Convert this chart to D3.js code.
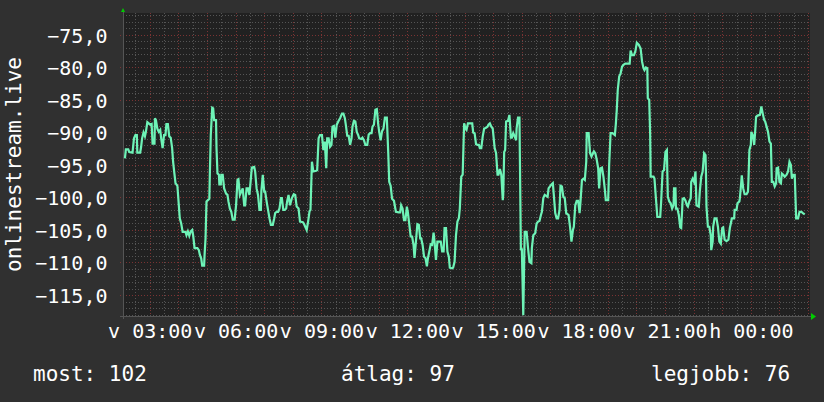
<!DOCTYPE html>
<html>
<head>
<meta charset="utf-8">
<script src="https://d3js.org/d3.v7.min.js"></script>
<style>
 body { margin: 0; background: #303030; }
 svg text { font-family: "DejaVu Sans Mono", monospace; fill: #ffffff; }
</style>
</head>
<body>
<script>
// hungarian short day names (strftime %a)
var dayNames = ["v", "h", "k", "sze", "cs", "p", "szo"];
var yTicks = [-75, -80, -85, -90, -95, -100, -105, -110, -115];
var yLabel = "onlinestream.live";
var legendLabels = ["most", "átlag", "legjobb"];
var legendValues = [102, 97, 76];

// [minutes after sunday 00:00, signal]
var signal = [
 [128,-94.0],[130,-92.6],[135,-92.6],[137,-93.0],[144,-93.1],[147,-90.9],[150,-90.4],[153,-90.4],[154,-93.1],[160,-93.1],
 [162,-92.2],[164,-90.9],[167,-90.0],[170,-90.6],[172,-89.9],[175,-88.4],[181,-88.8],[184,-88.7],[186,-91.7],[190,-91.7],
 [191,-87.8],[193,-88.1],[196,-89.4],[199,-89.9],[202,-89.6],[204,-90.9],[207,-92.4],[210,-90.4],[213,-90.4],[215,-88.7],
 [218,-88.7],[221,-90.6],[224,-90.8],[227,-92.4],[229,-94.5],[232,-96.5],[234,-97.8],[238,-98.2],[241,-101.2],[243,-103.2],
 [246,-104.0],[249,-105.3],[255,-105.3],[257,-105.8],[260,-105.2],[263,-105.9],[266,-105.2],[269,-105.0],[271,-105.8],[274,-107.8],
 [280,-107.8],[283,-108.1],[285,-108.8],[288,-109.4],[290,-110.5],[294,-110.5],[295,-108.8],[297,-106.3],[299,-100.6],[302,-100.4],
 [305,-100.2],[306,-96.5],[308,-90.4],[311,-86.2],[313,-86.3],[315,-88.1],[319,-88.1],[320,-92.4],[322,-96.3],[325,-96.5],
 [326,-98.0],[329,-98.0],[330,-96.5],[333,-96.5],[336,-98.6],[340,-99.4],[343,-99.6],[345,-100.6],[348,-101.7],[351,-102.2],
 [354,-103.4],[358,-103.4],[361,-101.2],[364,-97.3],[366,-97.2],[369,-99.6],[372,-99.1],[375,-98.6],[378,-101.2],[380,-101.2],
 [383,-98.6],[386,-98.6],[389,-99.6],[392,-97.1],[394,-95.4],[399,-95.3],[401,-96.0],[404,-98.6],[407,-99.6],[410,-101.9],
 [413,-101.9],[414,-99.1],[417,-96.5],[420,-99.1],[422,-99.1],[425,-100.6],[428,-101.9],[431,-103.2],[434,-104.2],[438,-104.2],
 [441,-103.2],[443,-102.4],[446,-102.2],[449,-102.2],[452,-101.7],[455,-100.1],[457,-100.1],[460,-101.9],[463,-101.9],[466,-101.7],
 [468,-100.6],[471,-99.6],[474,-101.2],[478,-100.1],[482,-99.5],[485,-99.6],[488,-101.4],[492,-101.7],[495,-103.7],[501,-103.8],
 [503,-104.0],[506,-104.5],[509,-105.0],[512,-103.7],[515,-102.1],[517,-101.9],[520,-94.5],[523,-96.0],[529,-95.9],[531,-95.8],
 [534,-90.9],[537,-90.4],[541,-90.4],[544,-92.7],[547,-91.4],[550,-95.5],[552,-90.9],[555,-90.9],[558,-92.2],[561,-91.9],
 [563,-89.1],[566,-89.0],[569,-90.8],[572,-88.8],[576,-88.2],[579,-87.8],[583,-87.1],[586,-87.1],[589,-87.8],[591,-88.8],
 [594,-90.5],[597,-90.5],[600,-91.9],[603,-90.9],[605,-89.1],[608,-88.2],[611,-88.3],[614,-89.9],[617,-90.4],[619,-90.9],
 [624,-91.0],[626,-90.8],[629,-91.2],[632,-91.9],[636,-91.9],[639,-90.3],[642,-90.1],[645,-90.1],[647,-89.1],[650,-88.8],
 [653,-86.5],[656,-86.4],[659,-88.8],[661,-89.9],[664,-91.2],[667,-89.8],[670,-89.4],[673,-87.7],[677,-87.7],[680,-93.2],
 [682,-97.6],[685,-98.2],[688,-100.2],[692,-100.5],[696,-102.2],[702,-102.3],[705,-102.3],[707,-101.2],[710,-101.7],[713,-103.5],
 [716,-103.5],[719,-101.4],[721,-102.2],[724,-104.1],[727,-106.0],[730,-106.0],[733,-107.3],[735,-109.3],[738,-106.8],[741,-104.1],
 [744,-104.2],[747,-106.3],[749,-106.3],[752,-107.3],[755,-109.1],[758,-109.3],[761,-110.6],[763,-109.4],[766,-108.3],[769,-107.2],
 [772,-107.3],[775,-105.4],[777,-106.8],[780,-109.6],[783,-106.8],[790,-106.8],[793,-108.3],[796,-108.3],[798,-104.7],[801,-104.7],
 [804,-108.3],[807,-109.1],[809,-110.8],[814,-110.9],[816,-110.8],[819,-109.9],[822,-105.8],[825,-103.7],[828,-103.2],[830,-101.7],
 [833,-96.8],[836,-96.5],[839,-88.6],[842,-89.4],[844,-89.6],[847,-88.6],[856,-88.6],[858,-90.0],[861,-90.1],[864,-91.8],
 [867,-91.9],[870,-91.9],[872,-92.4],[875,-92.4],[878,-90.6],[881,-89.4],[884,-89.3],[888,-89.1],[890,-88.8],[893,-88.6],
 [896,-89.1],[899,-89.4],[903,-92.4],[906,-93.2],[909,-96.5],[911,-96.5],[914,-95.6],[917,-96.5],[920,-100.4],[921,-99.6],
 [923,-93.0],[925,-92.7],[927,-88.3],[931,-88.2],[934,-87.3],[937,-90.8],[939,-90.8],[942,-90.1],[945,-90.6],[948,-91.2],
 [949,-89.4],[952,-87.7],[955,-87.7],[956,-94.5],[958,-108.1],[960,-107.8],[963,-118.1],[966,-105.3],[970,-105.3],[973,-107.8],
 [976,-109.9],[980,-110.1],[981,-107.8],[984,-105.8],[988,-105.5],[991,-104.0],[994,-103.7],[997,-103.6],[1000,-102.7],[1002,-102.2],
 [1005,-100.1],[1008,-99.6],[1014,-99.9],[1016,-98.6],[1019,-98.3],[1022,-98.0],[1025,-97.8],[1027,-99.6],[1030,-102.4],[1033,-103.2],
 [1036,-103.2],[1039,-101.9],[1041,-98.2],[1044,-98.3],[1047,-99.9],[1050,-100.1],[1053,-102.4],[1058,-102.7],[1061,-104.5],[1064,-106.8],
 [1067,-105.0],[1069,-104.5],[1072,-101.2],[1075,-100.5],[1078,-100.5],[1081,-102.4],[1083,-100.6],[1086,-97.3],[1089,-97.1],[1092,-97.3],
 [1095,-94.5],[1096,-90.1],[1100,-90.1],[1103,-93.2],[1106,-93.7],[1109,-93.2],[1111,-92.9],[1114,-93.2],[1117,-94.2],[1120,-95.5],
 [1122,-98.6],[1125,-95.5],[1128,-95.4],[1131,-96.8],[1134,-98.8],[1136,-100.4],[1141,-100.4],[1143,-95.0],[1146,-90.1],[1150,-90.1],
 [1155,-90.4],[1157,-88.7],[1159,-86.5],[1161,-83.5],[1164,-81.4],[1167,-80.9],[1170,-79.9],[1173,-79.6],[1177,-79.4],[1186,-79.4],
 [1188,-77.4],[1191,-78.1],[1195,-78.1],[1198,-77.5],[1201,-76.2],[1205,-76.5],[1209,-77.1],[1212,-79.1],[1215,-80.1],[1217,-80.4],
 [1220,-80.0],[1223,-80.1],[1224,-84.7],[1227,-85.0],[1229,-90.4],[1230,-96.8],[1236,-96.8],[1238,-97.1],[1241,-100.1],[1244,-103.0],
 [1250,-103.0],[1252,-100.6],[1255,-96.0],[1258,-95.8],[1261,-93.0],[1264,-92.7],[1265,-96.5],[1266,-99.9],[1269,-100.6],[1272,-100.9],
 [1275,-101.7],[1278,-101.2],[1279,-98.6],[1282,-98.6],[1283,-101.7],[1286,-101.7],[1289,-102.7],[1292,-104.6],[1294,-104.7],[1296,-101.9],
 [1297,-100.2],[1300,-100.1],[1303,-100.5],[1306,-101.2],[1308,-101.4],[1311,-100.6],[1314,-100.1],[1315,-97.6],[1318,-97.1],[1321,-97.6],
 [1324,-96.0],[1326,-101.2],[1331,-101.4],[1333,-99.1],[1336,-96.8],[1339,-96.0],[1342,-93.2],[1345,-93.5],[1346,-96.5],[1347,-101.4],
 [1350,-104.5],[1353,-104.5],[1356,-105.8],[1357,-108.1],[1360,-106.8],[1361,-104.5],[1364,-103.2],[1368,-103.2],[1371,-104.5],[1374,-106.8],
 [1377,-107.1],[1380,-104.7],[1382,-104.6],[1385,-106.5],[1389,-106.7],[1393,-106.5],[1396,-104.7],[1399,-103.7],[1400,-103.2],[1405,-103.2],
 [1406,-101.9],[1410,-101.9],[1412,-100.9],[1416,-100.6],[1417,-100.1],[1420,-97.6],[1421,-96.6],[1424,-98.6],[1427,-99.5],[1431,-99.5],
 [1434,-99.1],[1435,-97.3],[1437,-92.7],[1440,-91.9],[1441,-89.9],[1444,-90.4],[1447,-91.9],[1449,-89.9],[1451,-87.6],[1454,-87.4],
 [1459,-87.3],[1462,-86.0],[1465,-87.1],[1468,-88.1],[1470,-88.3],[1473,-89.1],[1476,-89.9],[1479,-91.4],[1482,-91.7],[1484,-97.6],
 [1487,-97.6],[1490,-98.3],[1493,-97.8],[1494,-95.5],[1497,-95.4],[1500,-97.6],[1503,-97.8],[1505,-96.3],[1508,-96.5],[1511,-96.8],
 [1515,-96.5],[1518,-96.0],[1521,-94.5],[1524,-95.0],[1526,-97.1],[1529,-96.5],[1532,-96.5],[1535,-103.2],[1539,-103.2],[1542,-102.2],
 [1546,-102.2],[1549,-102.4],[1553,-102.6]
];

var margin = {top: 13, right: 14, bottom: 86, left: 123},
    w = 824 - margin.left - margin.right,
    h = 402 - margin.top - margin.bottom;

var base = new Date(2024, 2, 3); // a sunday
function at(m) { return new Date(base.getTime() + m * 60000); }

var hu = d3.timeFormatLocale({
  dateTime: "%Y. %B %-e. %H:%M:%S", date: "%Y.%m.%d.", time: "%H:%M:%S",
  periods: ["de.", "du."],
  days: ["vasárnap", "hétfő", "kedd", "szerda", "csütörtök", "péntek", "szombat"],
  shortDays: dayNames,
  months: ["január","február","március","április","május","június","július","augusztus","szeptember","október","november","december"],
  shortMonths: ["jan","feb","már","ápr","máj","jún","júl","aug","szep","okt","nov","dec"]
});
var numFmt = d3.formatLocale({decimal: ",", thousands: " ", grouping: [3], currency: ["", " Ft"]}).format(".1f");

var x = d3.scaleTime()
  .domain([at(124), at(1564)])
  .range([0, w]);
var y = d3.scaleLinear()
  .domain([-118.23, -71.62])
  .range([h, 0]);

var svg = d3.select("body").append("svg")
  .attr("width", 824)
  .attr("height", 402);

svg.append("rect")
  .attr("width", 824).attr("height", 402)
  .attr("fill", "#303030");

var g = svg.append("g")
  .attr("transform", "translate(" + margin.left + "," + margin.top + ")");

g.append("rect")
  .attr("width", w).attr("height", h)
  .attr("fill", "#212121");

// minor grid
var minorX = d3.timeMinute.every(30).range(at(124), at(1564));
var minorY = d3.range(Math.ceil(y.domain()[0]), y.domain()[1], 1);
g.append("g").attr("class", "grid minor")
  .selectAll("line").data(minorX).enter().append("line")
  .attr("x1", function(d) { return Math.round(x(d)) + 0.5; })
  .attr("x2", function(d) { return Math.round(x(d)) + 0.5; })
  .attr("y1", 0).attr("y2", h);
g.append("g").attr("class", "grid minor")
  .selectAll("line").data(minorY).enter().append("line")
  .attr("y1", function(d) { return Math.round(y(d)) + 0.5; })
  .attr("y2", function(d) { return Math.round(y(d)) + 0.5; })
  .attr("x1", 0).attr("x2", w);

// major grid
var majorX = d3.timeHour.every(1).range(at(124), at(1564));
g.append("g").attr("class", "grid major")
  .selectAll("line").data(majorX).enter().append("line")
  .attr("x1", function(d) { return Math.round(x(d)) + 0.5; })
  .attr("x2", function(d) { return Math.round(x(d)) + 0.5; })
  .attr("y1", 0).attr("y2", h + 3);
g.append("g").attr("class", "grid major")
  .selectAll("line").data(yTicks).enter().append("line")
  .attr("y1", function(d) { return Math.round(y(d)) + 0.5; })
  .attr("y2", function(d) { return Math.round(y(d)) + 0.5; })
  .attr("x1", -3).attr("x2", w);

// axes
var xAxis = d3.axisBottom(x)
  .tickValues(d3.timeHour.every(3).range(at(180), at(1564)))
  .tickFormat(hu.format("%a %H:%M"))
  .tickSize(0).tickPadding(0);
var yAxis = d3.axisLeft(y)
  .tickValues(yTicks)
  .tickFormat(numFmt)
  .tickSize(0).tickPadding(0);

var gx = g.append("g").attr("class", "x axis")
  .attr("transform", "translate(0," + h + ")")
  .call(xAxis);
gx.selectAll("text").attr("dy", null).attr("y", 22);
var gy = g.append("g").attr("class", "y axis").call(yAxis);
gy.selectAll("text").attr("x", -15.5).attr("dy", "0.36em");
svg.selectAll(".axis .domain").remove();

// axis lines + arrows
g.append("line").attr("class", "axisline")
  .attr("x1", -3).attr("x2", w + 2).attr("y1", h + 0.5).attr("y2", h + 0.5);
g.append("line").attr("class", "axisline")
  .attr("x1", 0.5).attr("x2", 0.5).attr("y1", -2).attr("y2", h + 3);
g.append("path").attr("fill", "#00cc00")
  .attr("d", "M" + (w + 1) + "," + (h - 3) + "L" + (w + 6) + "," + (h + 0.5) + "L" + (w + 1) + "," + (h + 4) + "Z");
g.append("path").attr("fill", "#00cc00")
  .attr("d", "M-2,-1L2,-1L0,-5Z");

// the signal line
var line = d3.line()
  .x(function(d) { return x(at(d[0])); })
  .y(function(d) { return y(d[1]); });
g.append("path")
  .datum(signal)
  .attr("fill", "none")
  .attr("stroke", "#6ef3b7")
  .attr("stroke-width", 2.2)
  .attr("stroke-linejoin", "miter")
  .attr("d", line);

// y label
svg.append("text")
  .attr("transform", "translate(21," + (margin.top + h / 2) + ") rotate(-90)")
  .attr("text-anchor", "middle")
  .style("font-size", "21px")
  .text(yLabel);

// legend
var legendX = [33, 341, 651];
svg.selectAll(".legend").data(legendLabels).enter().append("text")
  .attr("class", "legend")
  .attr("x", function(d, i) { return legendX[i]; })
  .attr("y", 381)
  .style("font-size", "21px")
  .text(function(d, i) { return d + ": " + legendValues[i]; });
</script>
<style>
 .axis text { font-size: 20px; font-family: "DejaVu Sans Mono", monospace; fill: #ffffff; }
 .grid.minor line { stroke: #555555; stroke-dasharray: 1, 2; shape-rendering: crispEdges; }
 .grid.major line { stroke: #7a3333; stroke-dasharray: 1, 2; shape-rendering: crispEdges; }
 .axisline { stroke: #555555; shape-rendering: crispEdges; }
</style>
</body>
</html>
